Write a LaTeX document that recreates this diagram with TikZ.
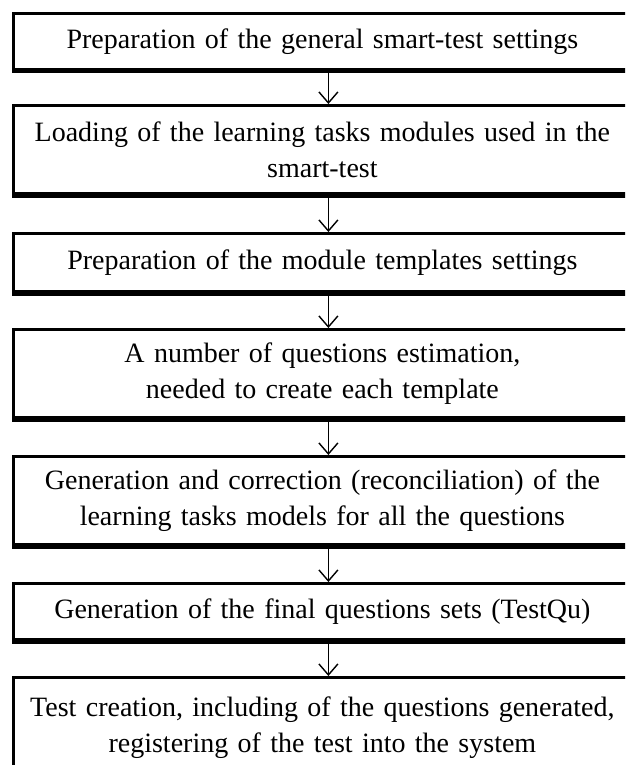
\documentclass[tikz,border=0pt]{standalone}
\usepackage{fontspec}
\setmainfont[WordSpace=0.8]{Liberation Serif}
\usetikzlibrary{arrows.meta}
\begin{document}
\begin{tikzpicture}[x=1pt,y=-1pt,
  stepbox/.style={draw=black, line width=2.8pt, rectangle, minimum width=618pt,
    inner sep=0pt, align=center, text width=600pt, anchor=north west,
    font=\fontsize{28}{36}\selectfont},
  shadowline/.style={line width=2.8pt, black},
  flow/.style={line width=1.4pt, -{Straight Barb[length=11pt,width=19pt,line width=1.4pt]}}]
\useasboundingbox (0,0) rectangle (625,765);
\clip (0,0) rectangle (625,765);
\node[stepbox, minimum height=56pt]  (b1) at (12,12)  {Preparation of the general smart-test settings};
\node[stepbox, minimum height=88pt]  (b2) at (12,104) {Loading of the learning tasks modules used in the\\smart-test};
\node[stepbox, minimum height=58pt]  (b3) at (12,232) {Preparation of the module templates settings};
\node[stepbox, minimum height=88pt]  (b4) at (12,328) {A number of questions estimation,\\needed to create each template};
\node[stepbox, minimum height=88pt]  (b5) at (12,455) {Generation and correction (reconciliation) of the\\learning tasks models for all the questions};
\node[stepbox, minimum height=56pt]  (b6) at (12,582) {Generation of the final questions sets (TestQu)};
\node[stepbox, minimum height=100pt] (b7) at (12,676) {Test creation, including of the questions generated,\\registering of the test into the system};
\foreach \n in {b1,b2,b3,b4,b5,b6}{
  \draw[shadowline] ([yshift=-1.3pt]\n.south west) -- ([yshift=-1.3pt]\n.south east);
}
\draw[flow] ([xshift=6pt]b1.south) -- ([xshift=6pt]b2.north);
\draw[flow] ([xshift=6pt]b2.south) -- ([xshift=6pt]b3.north);
\draw[flow] ([xshift=6pt]b3.south) -- ([xshift=6pt]b4.north);
\draw[flow] ([xshift=6pt]b4.south) -- ([xshift=6pt]b5.north);
\draw[flow] ([xshift=6pt]b5.south) -- ([xshift=6pt]b6.north);
\draw[flow] ([xshift=6pt]b6.south) -- ([xshift=6pt]b7.north);
\end{tikzpicture}
\end{document}
